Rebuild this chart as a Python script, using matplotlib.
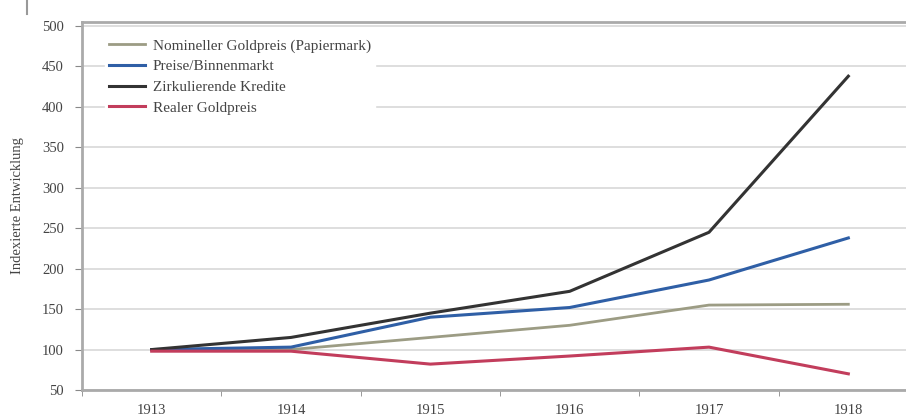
import matplotlib.pyplot as plt
from matplotlib.lines import Line2D

# Jahre und indexierte Reihen (1913 = 100)
jahre = ['1913', '1914', '1915', '1916', '1917', '1918']
gold_nominal = [100, 100, 115, 130, 155, 156]
preise_binnen = [100, 103, 140, 152, 186, 238]
kredite = [100, 115, 145, 172, 245, 438]
gold_real = [98, 98, 82, 92, 103, 70]

plt.rcParams['font.family'] = ['Liberation Serif', 'DejaVu Serif']

fig = plt.figure(figsize=(9.06, 4.18), dpi=100)
ax = fig.add_axes([82 / 906, 28 / 418, 836 / 906, 368 / 418])

x = range(len(jahre))
ax.plot(x, gold_nominal, color='#9c9c84', lw=2.0, label='Nomineller Goldpreis (Papiermark)')
ax.plot(x, preise_binnen, color='#2f5fa6', lw=2.2, label='Preise/Binnenmarkt')
ax.plot(x, kredite, color='#333333', lw=2.2, label='Zirkulierende Kredite')
ax.plot(x, gold_real, color='#c23d5c', lw=2.2, label='Realer Goldpreis')

ax.set_xlim(-0.5, 5.5)
ax.set_ylim(50, 505)
ax.set_yticks(range(50, 501, 50))
ax.set_xticks(list(x))
ax.set_xticklabels(jahre)
ax.set_xticks([i + 0.5 for i in range(-1, 6)], minor=True)
ax.tick_params(axis='x', which='major', length=0, pad=10, labelsize=10.5, colors='#444444')
ax.tick_params(axis='x', which='minor', length=4, direction='out', color='#888888')
ax.tick_params(axis='y', length=5, color='#888888', labelsize=10.5, colors='#444444', pad=8)

ax.grid(axis='y', color='#d8d8d8', lw=1.2)
ax.set_axisbelow(True)
for side in ['left', 'bottom', 'top']:
    ax.spines[side].set_color('#aaaaaa')
    ax.spines[side].set_linewidth(2)
ax.spines['right'].set_visible(False)

ax.set_ylabel('Indexierte Entwicklung', fontsize=10.5, color='#444444', labelpad=13)

leg = ax.legend(loc='upper left', bbox_to_anchor=(0.018, 0.985), frameon=True,
                fontsize=11, handlelength=2.4, handletextpad=0.5,
                labelspacing=0.45, borderpad=0.25)
leg.get_frame().set_facecolor('white')
leg.get_frame().set_edgecolor('white')
leg.get_frame().set_alpha(1)
for t in leg.get_texts():
    t.set_color('#444444')

# Rest der Überschrift oben links
fig.add_artist(Line2D([27 / 906, 27 / 906], [1.0, 1 - 14 / 418], color='#999999', lw=1.5))

fig.savefig('out.png', dpi=100)
